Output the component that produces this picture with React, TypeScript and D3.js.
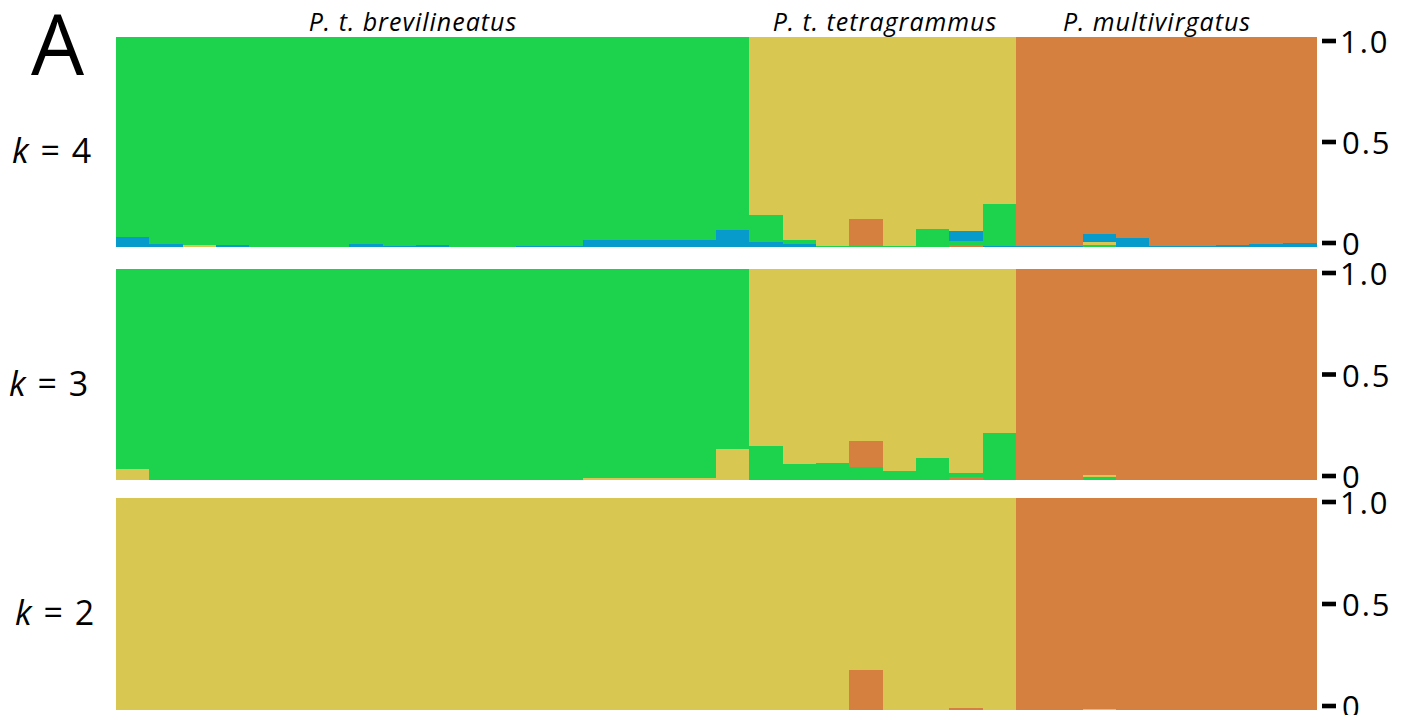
import React from "react";
import * as d3 from "d3";

// ---- Data ----
const populations = ["P. t. brevilineatus", "P. t. tetragrammus", "P. multivirgatus"];
const popSizes = [19, 8, 9];
const popLabelX = [413, 885, 1157];

const clusterColors: Record<string, string> = {
  green: "#1dd24d",
  yellow: "#d8c852",
  orange: "#d5803e",
  blue: "#079bcc",
};

// k = 4 (36 individuals)
const k4Green = [
  0.953, 0.985, 0.992, 0.99, 1, 1, 1, 0.985, 0.995, 0.99, 1, 1, 0.995, 0.995, 0.968, 0.968, 0.968, 0.968, 0.917,
  0.13, 0.02, 0.005, 0.005, 0.005, 0.087, 0.02, 0.2,
  0, 0, 0.011, 0, 0, 0, 0, 0, 0,
];
const k4Yellow = [
  0, 0, 0.008, 0, 0, 0, 0, 0, 0, 0, 0, 0, 0, 0, 0, 0, 0, 0, 0,
  0.848, 0.965, 0.995, 0.865, 0.995, 0.913, 0.922, 0.795,
  0, 0, 0.013, 0, 0, 0, 0, 0, 0,
];
const k4Orange = [
  0, 0, 0, 0, 0, 0, 0, 0, 0, 0, 0, 0, 0, 0, 0, 0, 0, 0, 0,
  0, 0, 0, 0.13, 0, 0, 0.01, 0,
  0.995, 0.995, 0.936, 0.956, 0.995, 0.995, 0.99, 0.985, 0.98,
];
const k4Blue = [
  0.047, 0.015, 0, 0.01, 0, 0, 0, 0.015, 0.005, 0.01, 0, 0, 0.005, 0.005, 0.032, 0.032, 0.032, 0.032, 0.083,
  0.022, 0.015, 0, 0, 0, 0, 0.048, 0.005,
  0.005, 0.005, 0.04, 0.044, 0.005, 0.005, 0.01, 0.015, 0.02,
];

// k = 3
const k3Green = [
  0.948, 1, 1, 1, 1, 1, 1, 1, 1, 1, 1, 1, 1, 1, 0.989, 0.989, 0.989, 0.989, 0.852,
  0.16, 0.075, 0.08, 0.06, 0.043, 0.106, 0.02, 0.223,
  0, 0, 0.012, 0, 0, 0, 0, 0, 0,
];
const k3Yellow = [
  0.052, 0, 0, 0, 0, 0, 0, 0, 0, 0, 0, 0, 0, 0, 0.011, 0.011, 0.011, 0.011, 0.148,
  0.84, 0.925, 0.92, 0.817, 0.957, 0.894, 0.967, 0.777,
  0, 0, 0.012, 0, 0, 0, 0, 0, 0,
];
const k3Orange = [
  0, 0, 0, 0, 0, 0, 0, 0, 0, 0, 0, 0, 0, 0, 0, 0, 0, 0, 0,
  0, 0, 0, 0.123, 0, 0, 0.013, 0,
  1, 1, 0.976, 1, 1, 1, 1, 1, 1,
];

// k = 2
const k2Yellow = [
  1, 1, 1, 1, 1, 1, 1, 1, 1, 1, 1, 1, 1, 1, 1, 1, 1, 1, 1,
  1, 1, 1, 0.81, 1, 1, 0.992, 1,
  0, 0, 0.005, 0, 0, 0, 0, 0, 0,
];
const k2Orange = [
  0, 0, 0, 0, 0, 0, 0, 0, 0, 0, 0, 0, 0, 0, 0, 0, 0, 0, 0,
  0, 0, 0, 0.19, 0, 0, 0.008, 0,
  1, 1, 0.995, 1, 1, 1, 1, 1, 1,
];

const panels = [
  { label: "4", series: { green: k4Green, yellow: k4Yellow, orange: k4Orange, blue: k4Blue } as Record<string, number[]> },
  { label: "3", series: { green: k3Green, yellow: k3Yellow, orange: k3Orange } as Record<string, number[]> },
  { label: "2", series: { yellow: k2Yellow, orange: k2Orange } as Record<string, number[]> },
];

const yTicks = [0, 0.5, 1];
const yTickLabels = ["0", "0.5", "1.0"];

// ---- Layout ----
const W = 1402;
const H = 715;
const plotLeft = 116;
const plotRight = 1316;
const panelBoxes = [
  { top: 37, bottom: 247, kx: 12 },
  { top: 269, bottom: 480, kx: 9 },
  { top: 498, bottom: 710, kx: 15 },
];
const font = "'Open Sans', 'DejaVu Sans', sans-serif";

export default function App() {
  const n = k4Green.length;
  const ids = d3.range(n).map(String);
  const x = d3.scaleBand<string>().domain(ids).range([plotLeft, plotRight]).paddingInner(0).paddingOuter(0);

  return (
    <svg
      width={W}
      height={H}
      style={{ position: "absolute", left: 0, top: 0, background: "#fff" }}
      fontFamily={font}
    >
      {/* Panel letter */}
      <text x={31} y={75} fontSize={84} fill="#000">A</text>

      {/* Population labels */}
      {populations.map((p, i) => (
        <text
          key={p}
          x={popLabelX[i]}
          y={31}
          fontSize={25}
          letterSpacing={1}
          fontStyle="italic"
          textAnchor="middle"
          fill="#000"
        >
          {p}
        </text>
      ))}

      {panels.map((panel, pi) => {
        const box = panelBoxes[pi];
        const y = d3.scaleLinear().domain([0, 1]).range([box.bottom, box.top]);
        const yTick = d3.scaleLinear().domain([0, 1]).range([box.bottom - 4, box.top + 4]);
        const keys = Object.keys(panel.series);
        const bars = ids.map((id, i) => {
          const segs = keys
            .map((k) => ({ key: k, v: panel.series[k][i] }))
            .filter((s) => s.v > 0)
            .sort((a, b) => a.v - b.v);
          let cum = 0;
          return segs.map((s) => {
            const y0 = cum;
            cum += s.v;
            return { key: s.key, y0, y1: Math.min(cum, 1), id };
          });
        });
        const mid = (box.top + box.bottom) / 2;
        return (
          <g key={pi}>
            <g shapeRendering="crispEdges">
              {bars.map((segs, i) =>
                segs.map((s) => (
                  <rect
                    key={ids[i] + s.key}
                    x={x(s.id)!}
                    width={x.bandwidth() + 1}
                    y={y(s.y1)}
                    height={y(s.y0) - y(s.y1)}
                    fill={clusterColors[s.key]}
                  />
                ))
              )}
            </g>
            {/* k label */}
            <text x={box.kx} y={mid + 21} fontSize={34} letterSpacing={1.5} fill="#000">
              <tspan fontStyle="italic">k</tspan>
              <tspan> = {panel.label}</tspan>
            </text>
            {/* right axis */}
            {yTicks.map((t, ti) => (
              <g key={t}>
                <rect x={1322} y={yTick(t) - 2.3} width={14} height={4.6} fill="#000" />
                <text
                  x={ti === 2 ? 1340 : 1342}
                  y={yTick(t)}
                  fontSize={31}
                  letterSpacing={2}
                  dominantBaseline="central"
                  fill="#000"
                >
                  {yTickLabels[ti]}
                </text>
              </g>
            ))}
          </g>
        );
      })}
    </svg>
  );
}
